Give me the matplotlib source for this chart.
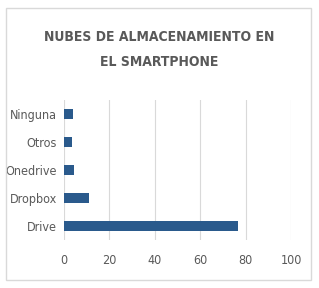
import matplotlib.pyplot as plt
from matplotlib.patches import Rectangle

# %% data
categorias = ['Drive', 'Dropbox', 'Onedrive', 'Otros', 'Ninguna']
valores = [76.5, 11, 4.3, 3.5, 4]
ticks_x = [0, 20, 40, 60, 80, 100]

gris = '#595959'
azul = '#2a5a8c'

# %% figure
fig = plt.figure(figsize=(3.19, 2.88), dpi=100)
fig.patches.append(Rectangle((6 / 319, 8 / 288), 305 / 319, 272 / 288, transform=fig.transFigure,
                             fill=False, edgecolor='#d9d9d9', linewidth=1))

ax = fig.add_axes([64 / 319, 48 / 288, 227 / 319, 140 / 288])
ax.barh(range(len(categorias)), valores, height=0.35, color=azul)
ax.set_xlim(0, 100)
ax.set_ylim(-0.5, len(categorias) - 0.5)
ax.set_xticks(ticks_x)
ax.set_yticks(range(len(categorias)))
ax.set_yticklabels(categorias)
ax.grid(axis='x', color='#d9d9d9', linewidth=0.8)
ax.set_axisbelow(True)
for s in ax.spines.values():
    s.set_visible(False)
ax.tick_params(length=0, colors=gris, labelsize=9, pad=10)
ax.tick_params(axis='y', pad=5)
for lab in ax.get_xticklabels() + ax.get_yticklabels():
    lab.set_fontstretch('condensed')

# %% title
fig.text(0.5, 1 - 37 / 288, 'NUBES DE ALMACENAMIENTO EN', ha='center', va='center',
         fontsize=10, color=gris, fontstretch='condensed', fontweight='semibold')
fig.text(0.5, 1 - 62 / 288, 'EL SMARTPHONE', ha='center', va='center',
         fontsize=10, color=gris, fontstretch='condensed', fontweight='semibold')

fig.savefig('out.png', dpi=100)
